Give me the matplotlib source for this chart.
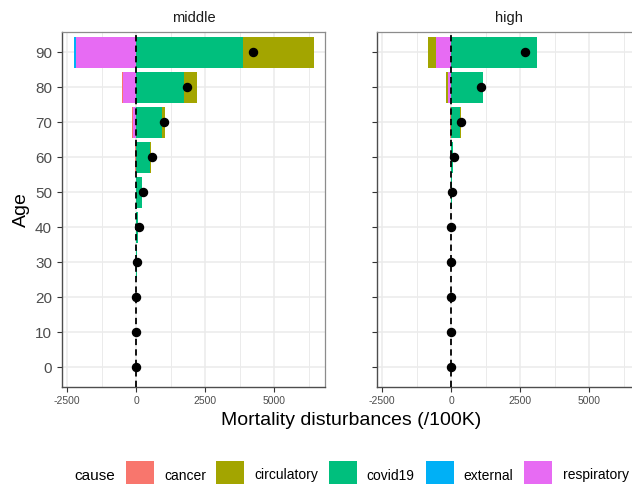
import matplotlib
matplotlib.use("Agg")
import matplotlib.pyplot as plt
from matplotlib.patches import Rectangle
import numpy as np

plt.rcParams['font.family'] = ['Liberation Sans', 'DejaVu Sans']

# ---------------- data ----------------
ages = [0, 10, 20, 30, 40, 50, 60, 70, 80, 90]
causes = ["cancer", "circulatory", "covid19", "external", "respiratory"]
cause_colors = ["#F8766D", "#A3A500", "#00BF7D", "#00B0F6", "#E76BF3"]
panels = ["middle", "high"]

middle_cancer = [0, 0, 0, 0, -5, -10, -30, -35, -40, 0]
middle_circulatory = [0, 0, 0, 0, 5, 10, 25, 100, 460, 2560]
middle_covid19 = [3, 3, 8, 25, 80, 210, 510, 940, 1740, 3880]
middle_external = [0, 2, 5, 3, 0, 0, 0, 0, 0, -70]
middle_respiratory = [-3, 0, 0, 0, 0, -5, -15, -110, -470, -2175]
middle_total = [-20, -10, -5, 15, 90, 255, 590, 1025, 1860, 4230]

high_cancer = [0, 0, 0, 0, 0, 0, -5, -45, -20, 0]
high_circulatory = [0, 0, 0, 0, 0, 0, 3, 35, -45, -300]
high_covid19 = [0, 0, 0, 2, 5, 25, 70, 325, 1170, 3115]
high_external = [0, 0, 0, 0, 0, 0, 0, 0, 0, 0]
high_respiratory = [0, 0, 0, 0, 0, 0, -3, -10, -125, -545]
high_total = [0, 0, 0, 0, 0, 25, 95, 375, 1100, 2660]

x_major = [-2500, 0, 2500, 5000]
x_minor = [-1250, 1250, 3750, 6250]
y_ticks = ages

panel_data = {
    "middle": {"cancer": middle_cancer, "circulatory": middle_circulatory,
               "covid19": middle_covid19, "external": middle_external,
               "respiratory": middle_respiratory, "total": middle_total},
    "high": {"cancer": high_cancer, "circulatory": high_circulatory,
             "covid19": high_covid19, "external": high_external,
             "respiratory": high_respiratory, "total": high_total},
}

# ---------------- layout ----------------
W, H = 632, 484
fig = plt.figure(figsize=(W / 100, H / 100), dpi=100)
fig.patch.set_facecolor("white")


def rect(x0, y0, x1, y1):
    return [x0 / W, 1 - y1 / H, (x1 - x0) / W, (y1 - y0) / H]


panel_rects = {"middle": rect(62, 32, 325, 387), "high": rect(377, 32, 640, 387)}
stack_order = ["respiratory", "external", "covid19", "circulatory", "cancer"]
color_of = dict(zip(causes, cause_colors))

for pname in panels:
    ax = fig.add_axes(panel_rects[pname])
    d = panel_data[pname]
    pos = np.zeros(len(ages))
    neg = np.zeros(len(ages))
    for c in stack_order:
        vals = np.array(d[c], dtype=float)
        left = np.where(vals >= 0, pos, neg)
        ax.barh(ages, vals, left=left, height=8.8, color=color_of[c],
                edgecolor="none", zorder=2)
        pos = pos + np.where(vals >= 0, vals, 0)
        neg = neg + np.where(vals < 0, vals, 0)
    ax.axvline(0, color="black", lw=1.3, ls=(0, (3.5, 2.3)), zorder=3)
    ax.plot(d["total"], ages, "o", color="black", markersize=5.8, zorder=4)

    ax.set_xlim(-2685, 6845)
    ax.set_ylim(-5.6, 95.8)
    ax.set_xticks(x_major)
    ax.set_xticks(x_minor, minor=True)
    ax.set_xticklabels([str(v) for v in x_major])
    ax.set_yticks(y_ticks)
    ax.set_axisbelow(True)
    ax.grid(which="major", color="#EBEBEB", lw=1.1, zorder=0)
    ax.grid(which="minor", axis="x", color="#EBEBEB", lw=0.7, zorder=0)
    ax.tick_params(axis="x", which="minor", length=0)
    ax.tick_params(axis="x", which="major", length=3.5, width=0.8,
                   color="#333333", labelsize=7.5, labelcolor="#4D4D4D", pad=3.3)
    ax.tick_params(axis="y", length=3.6, width=0.8, color="#333333",
                   labelsize=11, labelcolor="#4D4D4D", pad=3.6)
    if pname == "high":
        ax.tick_params(axis="y", labelleft=False)
    for s in ["left", "bottom"]:
        ax.spines[s].set_color("#4D4D4D")
        ax.spines[s].set_linewidth(1.0)
    for s in ["top", "right"]:
        ax.spines[s].set_color("#8C8C8C")
        ax.spines[s].set_linewidth(0.9)
    r = panel_rects[pname]
    fig.text(r[0] + r[2] / 2, 1 - 22 / H, pname, ha="center", va="baseline",
             fontsize=10.5, color="#1A1A1A")

fig.text(351 / W, 1 - 425 / H, "Mortality disturbances (/100K)", ha="center",
         va="baseline", fontsize=14, color="black")
fig.text(21 / W, 1 - 209.5 / H, "Age", ha="center", va="center", rotation=90,
         fontsize=14, color="black")

# ---------------- legend ----------------
fig.text(73.9 / W, 1 - 479.5 / H, "cause", ha="left", va="baseline",
         fontsize=11, color="black")
key_x = [125.7, 216.2, 329, 425.7, 524.2]
label_x = [164, 254.5, 366.6, 463.3, 563]
for c, col, kx, lx in zip(causes, cause_colors, key_x, label_x):
    fig.add_artist(Rectangle((kx / W, 1 - 489 / H), 28 / W, 28 / H,
                             transform=fig.transFigure, facecolor=col,
                             edgecolor="none"))
    fig.text(lx / W, 1 - 479.5 / H, c, ha="left", va="baseline", fontsize=10,
             color="black")

fig.savefig("out.png", dpi=100)
